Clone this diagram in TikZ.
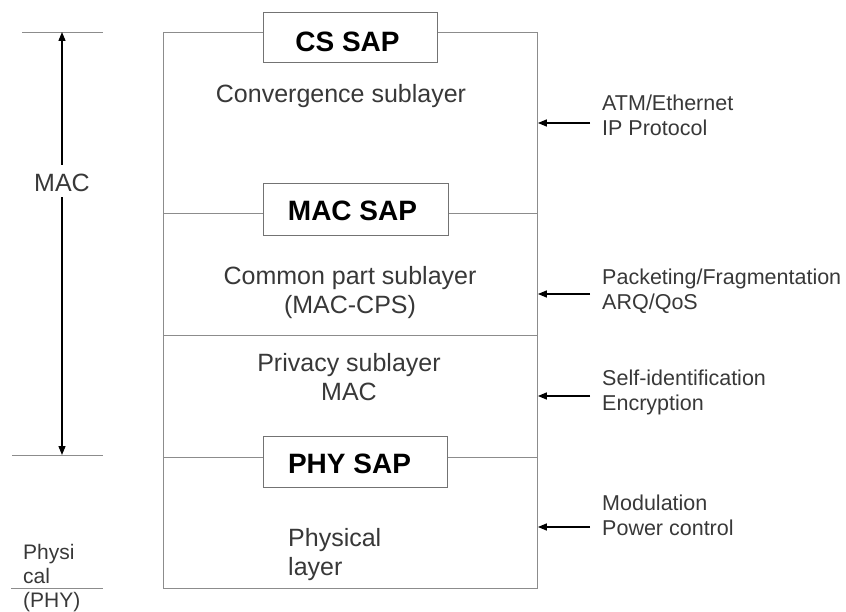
\documentclass[tikz,border=0pt]{standalone}
\usepackage{fontspec}
\setmainfont{Liberation Sans}
\usetikzlibrary{arrows.meta}
\begin{document}
\begin{tikzpicture}[x=1pt,y=-1pt,
  frameline/.style={draw=black!45, line width=0.9pt},
  sapbox/.style={draw=black!55, line width=0.9pt, fill=white, inner sep=0pt},
  saplabel/.style={font=\fontsize{28}{32}\selectfont\bfseries, text=black, anchor=base, inner sep=0pt},
  midtext/.style={font=\fontsize{25}{29}\selectfont, text=black!78, align=center, inner sep=0pt},
  sidetext/.style={font=\fontsize{21.5}{25}\selectfont, text=black!78, align=left, anchor=west, inner sep=0pt},
  feature/.style={-{Triangle[length=9pt,width=7pt]}, line width=1.4pt, black},
]
\useasboundingbox (0,0) rectangle (846,612);

% main frame
\node[frameline, minimum width=374pt, minimum height=556pt, inner sep=0pt, anchor=north west] (frame) at (163,32) {};

% layer separators
\coordinate (macL) at (163,213); \coordinate (macR) at (537,213);
\coordinate (privL) at (163,335); \coordinate (privR) at (537,335);
\coordinate (phyL) at (163,457); \coordinate (phyR) at (537,457);
\draw[frameline] (macL) -- (macR);
\draw[frameline] (privL) -- (privR);
\draw[frameline] (phyL) -- (phyR);

% SAP boxes
\node[sapbox, minimum width=174pt, minimum height=50pt] (csbox) at (350,37) {};
\node[sapbox, minimum width=185pt, minimum height=52pt] (macbox) at (355.5,209) {};
\node[sapbox, minimum width=184pt, minimum height=51pt] (phybox) at (355,461.5) {};
\node[saplabel] (cslabel) at (347.5,52) {CS SAP};
\node[saplabel] (maclabel) at (352.5,221) {MAC SAP};
\node[saplabel] (phylabel) at (349.5,473) {PHY SAP};

% sublayer texts
\node[midtext, anchor=base] (conv) at (341,103) {Convergence sublayer};
\node[midtext] (cps) at (350,293) {Common part sublayer\\(MAC-CPS)};
\node[midtext] (priv) at (349,377) {Privacy sublayer\\MAC};
\node[midtext, align=left, anchor=west] (phys) at (288,555) {Physical\\layer};

% side functions
\node[sidetext] (atm) at (602,115) {ATM/Ethernet\\IP Protocol};
\node[sidetext] (pack) at (602,291) {Packeting/Fragmentation\\ARQ/QoS};
\node[sidetext] (selfid) at (602,392) {Self-identification\\Encryption};
\node[sidetext] (modu) at (602,515) {Modulation\\Power control};

\coordinate (t1) at (590,123);
\coordinate (t2) at (590,294);
\coordinate (t3) at (590,396);
\coordinate (t4) at (590,527);
\draw[feature] (t1) -- (t1 -| frame.east);
\draw[feature] (t2) -- (t2 -| frame.east);
\draw[feature] (t3) -- (t3 -| frame.east);
\draw[feature] (t4) -- (t4 -| frame.east);

% left scale
\coordinate (l1a) at (22,32);  \coordinate (l1b) at (103,32);
\coordinate (l2a) at (12,455); \coordinate (l2b) at (103,455);
\coordinate (l3a) at (11,588); \coordinate (l3b) at (103,588);
\draw[frameline] (l1a) -- (l1b);
\draw[frameline] (l2a) -- (l2b);
\draw[frameline] (l3a) -- (l3b);

\node[font=\fontsize{25}{29}\selectfont, text=black!78, inner sep=0pt] (maclbl) at (62,183) {MAC};
\coordinate (mactop) at (62,32);
\coordinate (macbot) at (62,455);
\draw[feature, shorten <=9pt] (maclbl.north) -- (mactop);
\draw[feature, shorten <=5pt] (maclbl.south) -- (macbot);

\node[sidetext, font=\fontsize{21}{24}\selectfont] (physleft) at (23,578) {Physi\\cal\\(PHY)};
\end{tikzpicture}
\end{document}
